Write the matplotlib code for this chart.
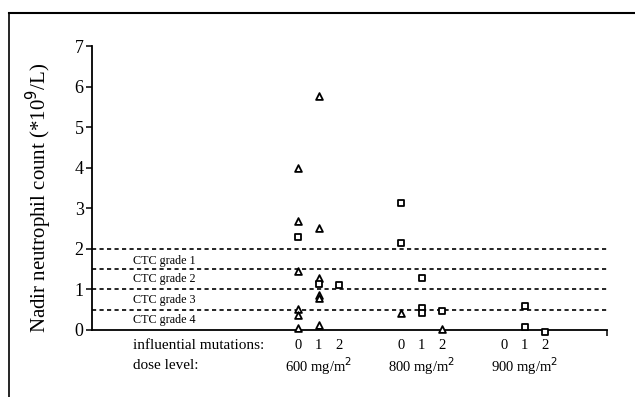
import numpy as np
import matplotlib
matplotlib.use("Agg")
import matplotlib.pyplot as plt
from matplotlib.lines import Line2D

plt.rcParams['font.family'] = ['Liberation Serif', 'DejaVu Serif']

# data: x position of each category, y = nadir neutrophil count
dose_labels = ["600 mg/m$^2$", "800 mg/m$^2$", "900 mg/m$^2$"]
mutation_labels = ["0", "1", "2"]
group_x = [[10, 11, 12], [15, 16, 17], [20, 21, 22]]

tri_x = [10, 10, 10, 10, 10, 10,
         11, 11, 11, 11, 11, 11,
         15, 17]
tri_y = [4.0, 2.68, 1.45, 0.51, 0.38, 0.05,
         5.77, 2.52, 1.27, 0.86, 0.78, 0.12,
         0.42, 0.02]

sq_x = [10, 11, 12,
        15, 15, 16, 16, 16, 17,
        21, 21, 22]
sq_y = [2.30, 1.14, 1.10,
        3.12, 2.15, 1.29, 0.54, 0.42, 0.46,
        0.58, 0.08, -0.04]

ctc_levels = [2.0, 1.5, 1.0, 0.5]
ctc_labels = ["CTC grade 1", "CTC grade 2", "CTC grade 3", "CTC grade 4"]
ctc_label_y = [1.70, 1.25, 0.74, 0.25]

fig = plt.figure(figsize=(6.35, 3.97), dpi=100)
ax = fig.add_axes([92 / 635, 67 / 397, 515 / 635, 284 / 397])

for lev in ctc_levels:
    ax.plot([0, 25], [lev, lev], color='black', linestyle=(0, (2.5, 2)), linewidth=1.2)

ax.scatter(tri_x, tri_y, marker='^', s=24, facecolors='white', edgecolors='black',
           linewidths=1.3, zorder=3, clip_on=False)
ax.scatter(sq_x, sq_y, marker='s', s=20, facecolors='white', edgecolors='black',
           linewidths=1.3, zorder=3, clip_on=False)

for lab, y in zip(ctc_labels, ctc_label_y):
    ax.text(2.0, y, lab, fontsize=8.7, va='center', ha='left')

# category labels under the axis
ax.text(2.0, -0.37, "influential mutations:", fontsize=11, va='center', ha='left', clip_on=False)
ax.text(2.0, -0.88, "dose level:", fontsize=11, va='center', ha='left', clip_on=False)
for xs, dose in zip(group_x, dose_labels):
    for x, m in zip(xs, mutation_labels):
        ax.text(x, -0.37, m, fontsize=10.5, va='center', ha='center', clip_on=False)
    ax.text(xs[1], -0.88, dose, fontsize=10.5, va='center', ha='center', clip_on=False)

ax.set_xlim(0, 25)
ax.set_ylim(0, 7)
ax.set_yticks(range(0, 8))
ax.tick_params(axis='y', direction='out', length=4, width=1.1, labelsize=13, pad=2)
ax.set_xticks([25])
ax.set_xticklabels([""])
ax.tick_params(axis='x', direction='out', length=4, width=1.1)
ax.spines['top'].set_visible(False)
ax.spines['right'].set_visible(False)
ax.spines['left'].set_linewidth(1.3)
ax.spines['bottom'].set_linewidth(1.3)
ax.set_ylabel("Nadir neutrophil count (*10$^9$/L)", fontsize=15)
ax.yaxis.set_label_coords(-0.074, 0.465)

# frame of the scanned figure
fig.add_artist(Line2D([9 / 635, 9 / 635], [0, 1 - 13 / 397], color='black', linewidth=1.2))
fig.add_artist(Line2D([9 / 635, 1], [1 - 13 / 397, 1 - 13 / 397], color='black', linewidth=1.5))

fig.savefig("out.png", dpi=100)
